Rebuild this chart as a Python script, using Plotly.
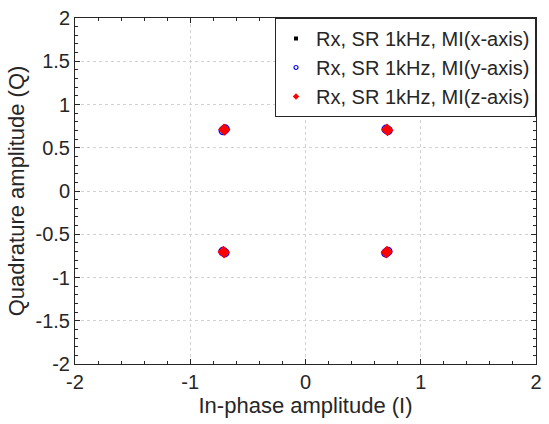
import plotly.graph_objects as go

# Received constellation points (in-phase, quadrature) per series
x_axis_I = [0.707, 0.712, -0.707, -0.703, -0.707, -0.711, 0.707, 0.703]
x_axis_Q = [0.707, 0.703, 0.707, 0.711, -0.707, -0.703, -0.707, -0.711]
y_axis_I = [0.700, 0.716, -0.714, -0.698, -0.700, -0.716, 0.714, 0.698]
y_axis_Q = [0.714, 0.700, 0.698, 0.716, -0.714, -0.700, -0.698, -0.716]
z_axis_I = [0.707, 0.712, -0.707, -0.702, -0.707, -0.712, 0.707, 0.702]
z_axis_Q = [0.712, 0.702, 0.712, 0.707, -0.712, -0.702, -0.702, -0.712]

names = ["Rx, SR 1kHz, MI(x-axis)", "Rx, SR 1kHz, MI(y-axis)", "Rx, SR 1kHz, MI(z-axis)"]

x_ticks = [-2, -1, 0, 1, 2]
x_tick_text = ["-2", "-1", "0", "1", "2"]
y_ticks = [-2, -1.5, -1, -0.5, 0, 0.5, 1, 1.5, 2]
y_tick_text = ["-2", "-1.5", "-1", "-0.5", "0", "0.5", "1", "1.5", "2"]

FONT = "Liberation Sans, Arial"
INK = "#262626"

fig = go.Figure()
# data traces
fig.add_trace(go.Scatter(x=x_axis_I, y=x_axis_Q, mode="markers", name=names[0], showlegend=False,
                         marker=dict(symbol="square", size=6, color="black")))
fig.add_trace(go.Scatter(x=y_axis_I, y=y_axis_Q, mode="markers", name=names[1], showlegend=False,
                         marker=dict(symbol="circle", size=8, color="rgba(0,0,0,0)",
                                     line=dict(color="blue", width=1.5))))
fig.add_trace(go.Scatter(x=z_axis_I, y=z_axis_Q, mode="markers", name=names[2], showlegend=False,
                         marker=dict(symbol="diamond", size=9, color="red",
                                     line=dict(color="red", width=0))))
# legend entries (small symbols)
fig.add_trace(go.Scatter(x=[None], y=[None], mode="markers", name=names[0],
                         marker=dict(symbol="square", size=4, color="black")))
fig.add_trace(go.Scatter(x=[None], y=[None], mode="markers", name=names[1],
                         marker=dict(symbol="circle", size=4, color="rgba(0,0,0,0)",
                                     line=dict(color="blue", width=1.2))))
fig.add_trace(go.Scatter(x=[None], y=[None], mode="markers", name=names[2],
                         marker=dict(symbol="diamond", size=5, color="red")))

axis_common = dict(
    showline=True, linecolor=INK, linewidth=1, mirror="ticks",
    ticks="inside", ticklen=5, tickcolor=INK,
    showgrid=True, gridcolor="#d2d2d2", griddash="dot", gridwidth=1,
    zeroline=False,
    tickfont=dict(family=FONT, size=20, color=INK),
    minor=dict(ticks="inside", ticklen=3, tickcolor=INK, showgrid=False),
)

fig.update_layout(
    width=549, height=424,
    margin=dict(l=75, r=7, t=14, b=60),
    plot_bgcolor="white", paper_bgcolor="white",
    font=dict(family=FONT, size=20, color=INK),
    xaxis=dict(range=[-2, 2], tickvals=x_ticks, ticktext=x_tick_text,
               title=dict(text="In-phase amplitude (I)", font=dict(size=22), standoff=3),
               **axis_common),
    yaxis=dict(range=[-2, 2], tickvals=y_ticks, ticktext=y_tick_text,
               title=dict(text="Quadrature amplitude (Q)", font=dict(size=22), standoff=4),
               **axis_common),
    legend=dict(x=1, y=1.0, xanchor="right", yanchor="top",
                bordercolor=INK, borderwidth=1, bgcolor="white",
                font=dict(size=20), itemsizing="trace", itemwidth=30,
                tracegroupgap=0),
    showlegend=True,
)
fig.update_xaxes(minor_dtick=0.2, minor_tick0=-2)
fig.update_yaxes(minor_dtick=0.1, minor_tick0=-2)

fig.write_html("out.html")
